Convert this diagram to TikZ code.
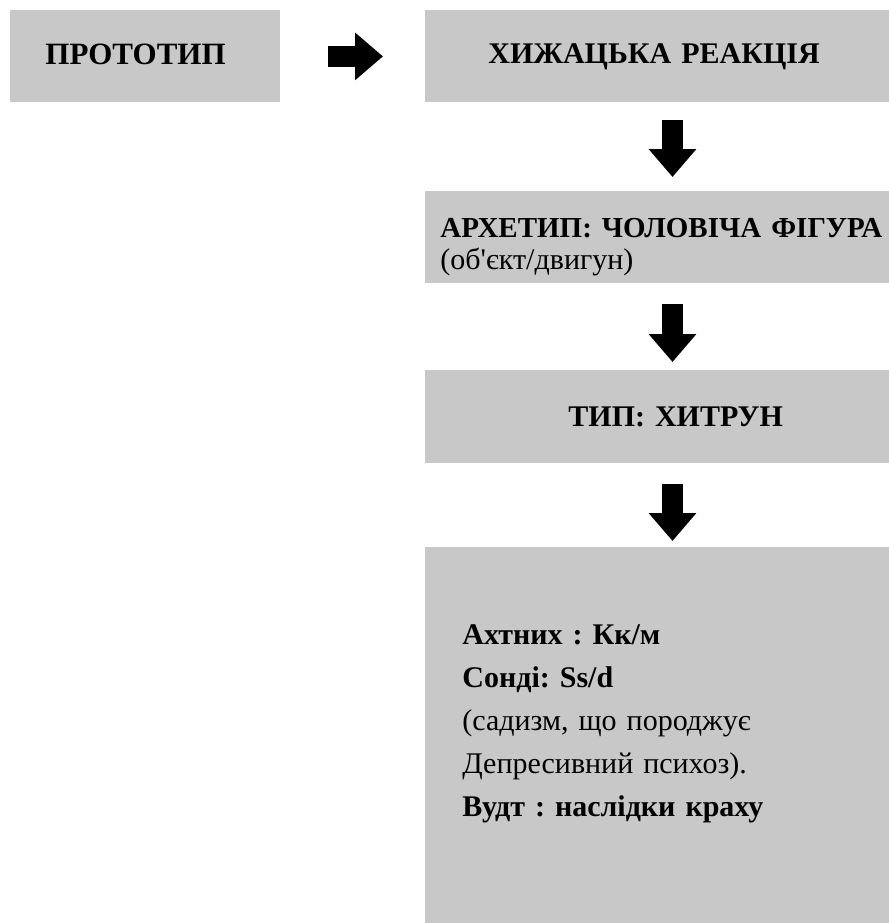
\documentclass[tikz,border=0pt]{standalone}
\usepackage{fontspec}
\setmainfont{Liberation Serif}
\usetikzlibrary{arrows.meta}
\definecolor{boxgray}{RGB}{200,200,200}
\frenchspacing

\begin{document}
\begin{tikzpicture}[x=0.5pt,y=-0.5pt,font=\fontsize{15}{21.5}\selectfont]
	\tikzset{
		box/.style={fill=boxgray,anchor=north west,align=left,text width=240pt,minimum height=46pt},
		head/.style={font=\fontsize{15}{18}\selectfont\bfseries},
		bigarrow/.style={line width=10.5pt,-{Triangle[length=14pt,width=23pt]}}
	}
	\clip (0,0) rectangle (889,923);
	% boxes
	\node[box,head,inner xsep=17.5pt,text width=100pt,text depth=2.5pt,font=\fontsize{15.5}{18}\selectfont\bfseries] (proto) at (10,10) {ПРОТОТИП};
	\node[box,head,inner xsep=31.5pt] (reac) at (425,10) {ХИЖАЦЬКА РЕАКЦІЯ};
	\node[box,inner xsep=7.5pt,font=\fontsize{15}{16}\selectfont,text depth=10pt] (arch) at (425,191)
		{\textbf{\fontsize{14.5}{16}\selectfont АРХЕТИП: ЧОЛОВІЧА ФІГУРА}\\(об\textquotesingle єкт/двигун)};
	\node[box,head,inner xsep=71.5pt,minimum height=46.5pt] (tip) at (425,370) {ТИП: ХИТРУН};
	\node[box,inner xsep=18.5pt,minimum height=188pt,text depth=101pt] (desc) at (425,547)
		{\textbf{Ахтних : Кк/м}\\ \textbf{Сонді: Ss/d}\\ (садизм, що породжує\\ Депресивний психоз).\\ \textbf{Вудт : наслідки краху}};
	% arrows
	\coordinate (ax) at (672.5,0);
	\draw[bigarrow,shorten <=23.5pt,shorten >=21pt] (proto.east) -- (reac.west);
	\draw[bigarrow,shorten <=8.5pt,shorten >=7pt] (reac.south -| ax) -- (arch.north -| ax);
	\draw[bigarrow,shorten <=10pt,shorten >=4pt] (arch.south -| ax) -- (tip.north -| ax);
	\draw[bigarrow,shorten <=10pt,shorten >=3pt] (tip.south -| ax) -- (desc.north -| ax);
\end{tikzpicture}
\end{document}
